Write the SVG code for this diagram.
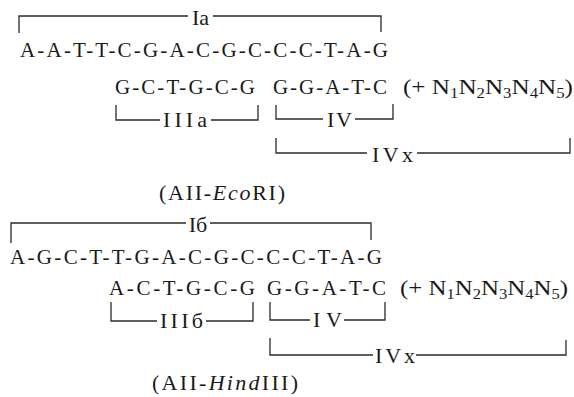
<svg xmlns="http://www.w3.org/2000/svg" width="574" height="397" viewBox="0 0 574 397">
<style>
text{font-family:"Liberation Serif","Times New Roman",serif;fill:#1a1a1a}
.seq{font-size:21px}
.lab{font-size:22px}
.sub{font-size:14px}
.br{fill:none;stroke:#2a2a2a;stroke-width:1.3}
.it{font-style:italic}
</style>
<rect width="574" height="397" fill="#fff"/>
<g id="block-a">
  <g id="bracket-Ia">
    <path class="br" d="M19,33 V16 H188 M213,16 H381 V32"/>
    <text class="lab" x="200.5" y="25" text-anchor="middle">Ia</text>
  </g>
  <text id="seq-a1" class="seq" x="20" y="57" textLength="368" lengthAdjust="spacing">A-A-T-T-C-G-A-C-G-C-C-C-T-A-G</text>
  <text id="seq-a2" class="seq" x="115" y="94" textLength="140" lengthAdjust="spacing">G-C-T-G-C-G</text>
  <text id="seq-a3" class="seq" x="273" y="94" textLength="114" lengthAdjust="spacing">G-G-A-T-C</text>
  <text id="n-a" class="seq" x="403" y="94" textLength="170" lengthAdjust="spacingAndGlyphs">(+ N<tspan class="sub" dy="4">1</tspan><tspan dy="-4">N</tspan><tspan class="sub" dy="4">2</tspan><tspan dy="-4">N</tspan><tspan class="sub" dy="4">3</tspan><tspan dy="-4">N</tspan><tspan class="sub" dy="4">4</tspan><tspan dy="-4">N</tspan><tspan class="sub" dy="4">5</tspan><tspan dy="-4">)</tspan></text>
  <g id="bracket-IIIa">
    <path class="br" d="M116,105 V120 H160 M211,120 H258 V105"/>
    <text class="lab" x="163" y="127" textLength="44" lengthAdjust="spacing">IIIa</text>
  </g>
  <g id="bracket-IV-a">
    <path class="br" d="M276,105 V119 H323 M355,119 H393 V104"/>
    <text class="lab" x="327" y="127" textLength="25" lengthAdjust="spacing">IV</text>
  </g>
  <g id="bracket-IVx-a">
    <path class="br" d="M276,138 V153 H367 M417,153 H570 V138"/>
    <text class="lab" x="372" y="162" textLength="41" lengthAdjust="spacing">IVx</text>
  </g>
  <text id="name-a" class="lab" x="159" y="200" textLength="126" lengthAdjust="spacing">(AII-<tspan class="it">Eco</tspan>RI)</text>
</g>
<g id="block-b">
  <g id="bracket-Ib">
    <path class="br" d="M11,243 V223 H186 M210,223 H371 V240"/>
    <text class="lab" x="198" y="232" text-anchor="middle">Iб</text>
  </g>
  <text id="seq-b1" class="seq" x="10" y="264" textLength="372" lengthAdjust="spacing">A-G-C-T-T-G-A-C-G-C-C-C-T-A-G</text>
  <text id="seq-b2" class="seq" x="109" y="295" textLength="146" lengthAdjust="spacing">A-C-T-G-C-G</text>
  <text id="seq-b3" class="seq" x="267" y="295" textLength="119" lengthAdjust="spacing">G-G-A-T-C</text>
  <text id="n-b" class="seq" x="400" y="295" textLength="168" lengthAdjust="spacingAndGlyphs">(+ N<tspan class="sub" dy="4">1</tspan><tspan dy="-4">N</tspan><tspan class="sub" dy="4">2</tspan><tspan dy="-4">N</tspan><tspan class="sub" dy="4">3</tspan><tspan dy="-4">N</tspan><tspan class="sub" dy="4">4</tspan><tspan dy="-4">N</tspan><tspan class="sub" dy="4">5</tspan><tspan dy="-4">)</tspan></text>
  <g id="bracket-IIIb">
    <path class="br" d="M111,302 V321 H157 M206,321 H253 V302"/>
    <text class="lab" x="160" y="328" textLength="43" lengthAdjust="spacing">IIIб</text>
  </g>
  <g id="bracket-IV-b">
    <path class="br" d="M270,302 V320 H310 M344,320 H385 V302"/>
    <text class="lab" x="313" y="327" textLength="29" lengthAdjust="spacing">IV</text>
  </g>
  <g id="bracket-IVx-b">
    <path class="br" d="M270,338 V355 H373 M416,355 H566 V340"/>
    <text class="lab" x="375" y="363" textLength="40" lengthAdjust="spacing">IVx</text>
  </g>
  <text id="name-b" class="lab" x="152" y="390" textLength="146" lengthAdjust="spacing">(AII-<tspan class="it">Hind</tspan>III)</text>
</g>
</svg>
